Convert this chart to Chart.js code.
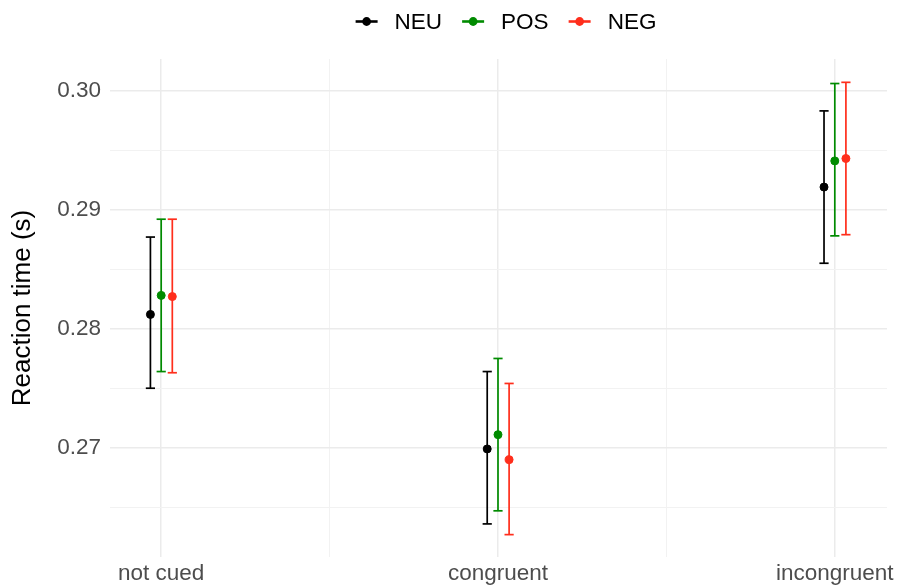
<!DOCTYPE html>
<html>
<head>
<meta charset="utf-8">
<script src="https://cdn.jsdelivr.net/npm/chart.js@4.4.1/dist/chart.umd.min.js"></script>
<style>
html,body{margin:0;padding:0;background:#ffffff;}
#wrap{width:897px;height:587px;}
</style>
</head>
<body>
<div id="wrap"><canvas id="c" width="897" height="587"></canvas></div>
<script>
// ---- data ----
const categories = ['not cued', 'congruent', 'incongruent'];
const seriesNames = ['NEU', 'POS', 'NEG'];

const neuMean = [0.2812, 0.2699, 0.2919];
const neuLow  = [0.2750, 0.2636, 0.2855];
const neuHigh = [0.2877, 0.2764, 0.2983];

const posMean = [0.2828, 0.2711, 0.2941];
const posLow  = [0.2764, 0.2647, 0.2878];
const posHigh = [0.2892, 0.2775, 0.3006];

const negMean = [0.2827, 0.2690, 0.2943];
const negLow  = [0.2763, 0.2627, 0.2879];
const negHigh = [0.2892, 0.2754, 0.3007];

const yMajorTicks = [0.27, 0.28, 0.29, 0.30];
const yMinorTicks = [0.265, 0.275, 0.285, 0.295];

// ---- styling / layout ----
const FONT = "'Liberation Sans', Arial, sans-serif";
const colors = ['#000000', '#008b00', '#ff2e1c'];
const dodge = [-0.032, 0, 0.033];
const legendCenterX = 506;
const legendBaseline = 29.3;

const means = [neuMean, posMean, negMean];
const lows = [neuLow, posLow, negLow];
const highs = [neuHigh, posHigh, negHigh];

Chart.defaults.font.family = FONT;

const pointSets = seriesNames.map((name, s) => ({
  label: name,
  data: categories.map((c, i) => ({x: i + dodge[s], y: means[s][i]})),
  showLine: false,
  backgroundColor: colors[s],
  borderColor: colors[s],
  pointBackgroundColor: colors[s],
  pointBorderColor: colors[s],
  pointRadius: 4,
  pointBorderWidth: 1,
  order: 0
}));

const barSets = seriesNames.map((name, s) => {
  const d = [];
  categories.forEach((c, i) => {
    d.push({x: i + dodge[s], y: lows[s][i]});
    d.push({x: i + dodge[s], y: highs[s][i]});
    d.push({x: i + dodge[s], y: null});
  });
  return {
    label: name + ' interval',
    data: d,
    showLine: true,
    spanGaps: false,
    fill: false,
    borderColor: colors[s],
    borderWidth: 1.7,
    pointStyle: 'line',
    pointRadius: 4.6,
    pointBorderWidth: 1.7,
    pointBorderColor: colors[s],
    pointBackgroundColor: colors[s],
    order: 1
  };
});

const xTickValues = categories.flatMap((c, i) => i < categories.length - 1 ? [i, i + 0.5] : [i]);
const yTickValues = [...yMinorTicks, ...yMajorTicks].sort((a, b) => a - b);
const isMajorY = v => yMajorTicks.some(t => Math.abs(t - v) < 1e-9);

const legendPlugin = {
  id: 'ggLegend',
  afterDraw(chart) {
    const ctx = chart.ctx;
    ctx.save();
    ctx.font = '22.5px ' + FONT;
    const keyW = 22, gapText = 17, gapItem = 20;
    const widths = seriesNames.map(n => ctx.measureText(n).width);
    const total = seriesNames.length * (keyW + gapText) + widths.reduce((a, b) => a + b, 0) + gapItem * (seriesNames.length - 1);
    let x = legendCenterX - total / 2;
    const y = 21.5;
    seriesNames.forEach((n, s) => {
      ctx.strokeStyle = colors[s];
      ctx.lineWidth = 2.6;
      ctx.beginPath();
      ctx.moveTo(x, y);
      ctx.lineTo(x + keyW, y);
      ctx.stroke();
      ctx.fillStyle = colors[s];
      ctx.beginPath();
      ctx.arc(x + keyW / 2, y, 4.4, 0, Math.PI * 2);
      ctx.fill();
      ctx.fillStyle = '#000000';
      ctx.textAlign = 'left';
      ctx.textBaseline = 'alphabetic';
      ctx.fillText(n, x + keyW + gapText, legendBaseline);
      x += keyW + gapText + widths[s] + gapItem;
    });
    ctx.restore();
  }
};

new Chart(document.getElementById('c'), {
  type: 'scatter',
  data: {datasets: [...pointSets, ...barSets]},
  options: {
    responsive: false,
    animation: false,
    devicePixelRatio: 1,
    events: [],
    layout: {padding: {top: 59, right: 10, left: 0, bottom: 0}},
    plugins: {legend: {display: false}, tooltip: {enabled: false}},
    scales: {
      x: {
        type: 'linear',
        min: -0.152,
        max: 2.155,
        afterBuildTicks: sc => { sc.ticks = xTickValues.map(v => ({value: v})); },
        afterFit: sc => { sc.height = 30; sc.paddingLeft = 0; sc.paddingRight = 0; },
        border: {display: false},
        grid: {
          drawTicks: false,
          color: ctx => (ctx.tick && Number.isInteger(ctx.tick.value)) ? '#ebebeb' : '#f2f2f2',
          lineWidth: ctx => (ctx.tick && Number.isInteger(ctx.tick.value)) ? 1.5 : 1
        },
        ticks: {
          autoSkip: false,
          maxRotation: 0,
          minRotation: 0,
          padding: 3,
          color: '#4d4d4d',
          font: {size: 22.5},
          callback: v => Number.isInteger(v) ? categories[v] : ''
        }
      },
      y: {
        type: 'linear',
        min: 0.26082,
        max: 0.30266,
        afterBuildTicks: sc => { sc.ticks = yTickValues.map(v => ({value: v})); },
        afterFit: sc => { sc.width = 110; sc.paddingTop = 0; sc.paddingBottom = 0; },
        border: {display: false},
        grid: {
          drawTicks: false,
          color: ctx => (ctx.tick && isMajorY(ctx.tick.value)) ? '#ebebeb' : '#f2f2f2',
          lineWidth: ctx => (ctx.tick && isMajorY(ctx.tick.value)) ? 1.5 : 1
        },
        ticks: {
          autoSkip: false,
          padding: 9,
          color: '#4d4d4d',
          font: {size: 22.5},
          callback: v => isMajorY(v) ? v.toFixed(2) : ''
        },
        title: {
          display: true,
          text: 'Reaction time (s)',
          color: '#000000',
          font: {size: 26},
          padding: {top: 7, bottom: 0}
        }
      }
    }
  },
  plugins: [legendPlugin]
});
</script>
</body>
</html>
